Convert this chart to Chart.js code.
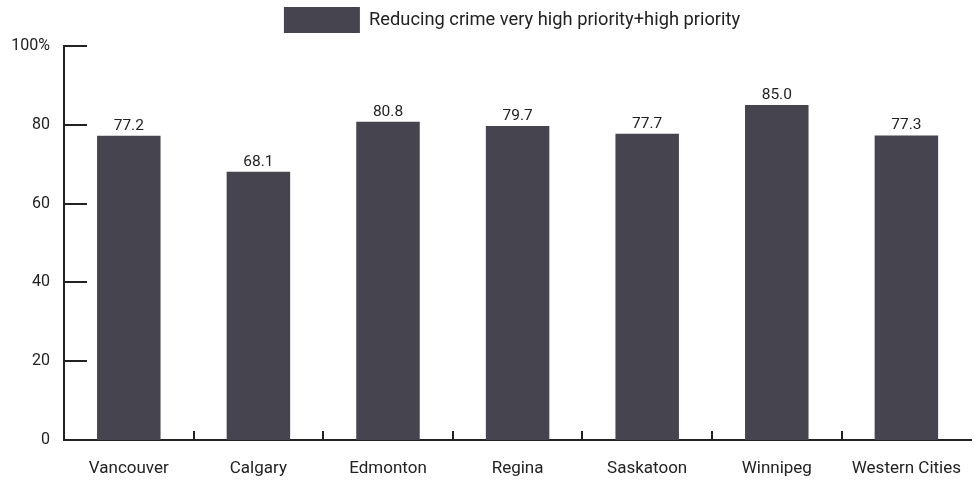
<!DOCTYPE html>
<html>
<head>
<meta charset="utf-8">
<script src="https://cdn.jsdelivr.net/npm/chart.js@4/dist/chart.umd.min.js"></script>
<style>
  html, body { margin: 0; padding: 0; background: #fff; overflow: hidden; }
  #wrap { width: 980px; height: 483px; position: relative; }
</style>
</head>
<body>
<div id="wrap"><canvas id="c"></canvas></div>
<script>
const categories = ['Vancouver', 'Calgary', 'Edmonton', 'Regina', 'Saskatoon', 'Winnipeg', 'Western Cities'];
const seriesName = 'Reducing crime very high priority+high priority';
const values = [77.2, 68.1, 80.8, 79.7, 77.7, 85.0, 77.3];
const yTicks = [0, 20, 40, 60, 80, 100];

const INK = '#222222';
const BAR = '#46444f';
const FONT = 'Roboto, "Liberation Sans", Arial, sans-serif';

// Fixed-height legend band above the plot, centred over the right-hand part
const legendBand = {
  id: 'legendBand',
  afterInit(chart) {
    const lg = chart.legend;
    if (!lg) return;
    const fit = lg.fit.bind(lg);
    lg.fit = function () { fit(); this.height = 46; };
  },
  afterLayout(chart) {
    const lg = chart.legend;
    if (lg) lg.left = 44;
  }
};

// Inward tick marks on both axes and category separators
const innerTicks = {
  id: 'innerTicks',
  afterDatasetsDraw(chart) {
    const { ctx, chartArea, scales: { x, y } } = chart;
    ctx.save();
    ctx.strokeStyle = INK;
    ctx.lineWidth = 2;
    ctx.beginPath();
    yTicks.forEach(v => {
      const py = Math.round(y.getPixelForValue(v));
      ctx.moveTo(chartArea.left - 1, py);
      ctx.lineTo(chartArea.left + 23, py);
    });
    for (let i = 0; i < categories.length - 1; i++) {
      const px = Math.round(x.getPixelForValue(i + 0.5));
      ctx.moveTo(px, chartArea.bottom);
      ctx.lineTo(px, chartArea.bottom - 9);
    }
    ctx.stroke();
    ctx.restore();
  }
};

// Value labels above each bar
const barValues = {
  id: 'barValues',
  afterDatasetsDraw(chart) {
    const { ctx } = chart;
    const meta = chart.getDatasetMeta(0);
    ctx.save();
    ctx.fillStyle = INK;
    ctx.font = '15.5px ' + FONT;
    ctx.textAlign = 'center';
    ctx.textBaseline = 'alphabetic';
    meta.data.forEach((bar, i) => {
      ctx.fillText(values[i].toFixed(1), bar.x, bar.y - 6);
    });
    ctx.restore();
  }
};

new Chart(document.getElementById('c'), {
  type: 'bar',
  data: {
    labels: categories,
    datasets: [{
      label: seriesName,
      data: values,
      backgroundColor: BAR,
      borderWidth: 0,
      barPercentage: 0.49,
      categoryPercentage: 1.0
    }]
  },
  options: {
    responsive: true,
    maintainAspectRatio: false,
    animation: false,
    devicePixelRatio: 1,
    layout: { padding: 0 },
    plugins: {
      tooltip: { enabled: false },
      legend: {
        display: true,
        position: 'top',
        labels: {
          boxWidth: 76,
          boxHeight: 26,
          padding: 7,
          color: INK,
          font: { family: FONT, size: 18.3 }
        }
      }
    },
    scales: {
      x: {
        offset: true,
        grid: { display: false, drawTicks: false },
        border: { display: true, color: INK, width: 2 },
        ticks: {
          color: INK,
          font: { family: FONT, size: 17 },
          padding: 19,
          maxRotation: 0,
          autoSkip: false
        },
        afterFit(scale) { scale.height = 43; }
      },
      y: {
        min: 0,
        max: 100,
        afterBuildTicks(scale) { scale.ticks = yTicks.map(v => ({ value: v })); },
        grid: { display: false, drawTicks: false },
        border: { display: true, color: INK, width: 2 },
        ticks: {
          color: INK,
          font: { family: FONT, size: 16 },
          padding: 14,
          callback: v => (v === 100 ? '100%' : String(v))
        },
        afterFit(scale) { scale.width = 64; }
      }
    }
  },
  plugins: [legendBand, innerTicks, barValues]
});
</script>
</body>
</html>
